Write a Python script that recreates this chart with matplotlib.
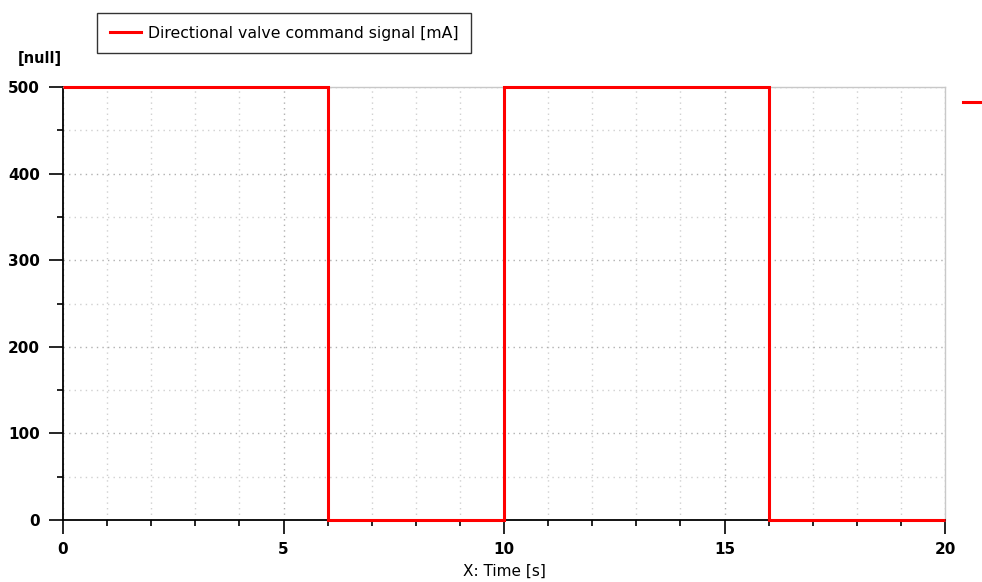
import matplotlib
matplotlib.use("Agg")
import matplotlib.pyplot as plt
from matplotlib.ticker import MultipleLocator
from matplotlib.lines import Line2D

# Data
switch_times = [0, 6, 10, 16, 20]
levels = [500, 0, 500, 0]
series_label = "Directional valve command signal [mA]"
x_label = "X: Time [s]"
y_unit = "[null]"

fig = plt.figure(figsize=(9.82, 5.82), dpi=100)
ax = fig.add_axes([63/982, 1-520/582, (945-63)/982, (520-87)/582])

ax.stairs(levels, switch_times, baseline=None, color="#ff0000", linewidth=2.2,
          label=series_label, zorder=5, clip_on=False)

ax.set_xlim(0, 20)
ax.set_ylim(0, 500)
ax.xaxis.set_major_locator(MultipleLocator(5))
ax.xaxis.set_minor_locator(MultipleLocator(1))
ax.yaxis.set_major_locator(MultipleLocator(100))
ax.yaxis.set_minor_locator(MultipleLocator(50))

ax.grid(True, which="major", linestyle=(0, (1, 3)), color="#b0b0b0", linewidth=1.0)
ax.grid(True, which="minor", linestyle=(0, (1, 3)), color="#d0d0d0", linewidth=1.0)
ax.set_axisbelow(True)

for s in ["left", "bottom"]:
    ax.spines[s].set_linewidth(1.3)
    ax.spines[s].set_color("black")
for s in ["top", "right"]:
    ax.spines[s].set_linewidth(1.0)
    ax.spines[s].set_color("#c8c8c8")

ax.tick_params(which="major", direction="out", length=10, width=1.2, color="black",
               labelsize=11)
ax.tick_params(which="minor", direction="out", length=4.5, width=1.2, color="black")
ax.tick_params(axis="x", which="major", pad=6)
ax.tick_params(axis="y", which="major", pad=6.5)
for lab in ax.get_xticklabels() + ax.get_yticklabels():
    lab.set_fontweight("bold")

ax.set_xlabel(x_label, fontsize=11, labelpad=5)
fig.text(40/982, 1-59/582, y_unit, fontsize=10.5, fontweight="bold",
         ha="center", va="center")

leg = fig.legend(loc="upper left", bbox_to_anchor=(97/982, 1-13/582),
                 frameon=True, fancybox=False, fontsize=11.3,
                 handlelength=2.0, handletextpad=0.45, borderpad=0.8,
                 borderaxespad=0, edgecolor="black")
leg.get_frame().set_linewidth(1.0)

# small red marker at right edge
fig.add_artist(Line2D([963/982, 982/982], [1-102/582, 1-102/582],
                      color="#ff0000", linewidth=2.2, transform=fig.transFigure))

fig.savefig("out.png", dpi=100)
